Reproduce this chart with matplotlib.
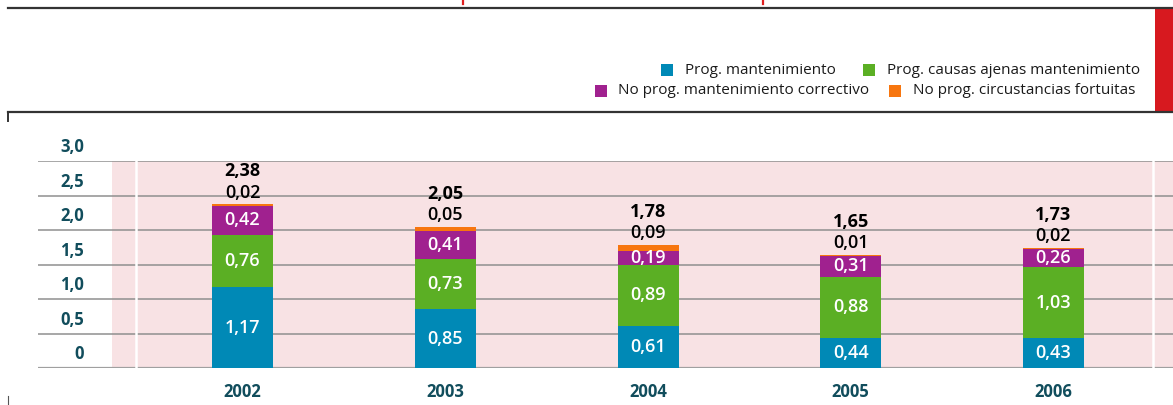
import matplotlib
matplotlib.use("Agg")
import matplotlib.pyplot as plt
from matplotlib.lines import Line2D
from matplotlib.patches import Rectangle
import matplotlib.transforms as mtransforms

plt.rcParams['font.family'] = ['Open Sans', 'DejaVu Sans']

years = ['2002', '2003', '2004', '2005', '2006']
prog_mant = [1.17, 0.85, 0.61, 0.44, 0.43]
prog_ajenas = [0.76, 0.73, 0.89, 0.88, 1.03]
noprog_correctivo = [0.42, 0.41, 0.19, 0.31, 0.26]
noprog_fortuitas = [0.02, 0.05, 0.09, 0.01, 0.02]
totales = [2.38, 2.05, 1.78, 1.65, 1.73]
yticks = [0, 0.5, 1.0, 1.5, 2.0, 2.5, 3.0]
ytick_labels = ['0', '0,5', '1,0', '1,5', '2,0', '2,5', '3,0']

series = [
    ('Prog. mantenimiento', prog_mant, '#0089b6'),
    ('Prog. causas ajenas mantenimiento', prog_ajenas, '#5baf24'),
    ('No prog. mantenimiento correctivo', noprog_correctivo, '#a0218f'),
    ('No prog. circustancias fortuitas', noprog_fortuitas, '#f7760f'),
]

TEAL = '#114d5c'
W, H = 1173, 405


def fmt(v):
    return f"{v:.2f}".replace('.', ',')


fig = plt.figure(figsize=(W / 100, H / 100), dpi=100)
ax = fig.add_axes([38 / W, (H - 368) / H, (W - 38) / W, 207 / H])

step = 202.75
def px(x):
    # pixel column -> data x
    return (x - 242.5) / step

x = list(range(len(years)))
ax.set_xlim(px(38), px(W))
ax.set_ylim(0, 3)
ax.axis('off')

# background
ax.axvspan(px(112), px(W), color='#f8e2e4', zorder=0, lw=0)
for yv in yticks:
    ax.axhline(yv, color='#a0a0a0' if yv == 0 else '#8f8f8f',
               lw=1.6 if yv == 0 else 1.1, zorder=1)
for xv in (px(136), px(1153)):
    ax.axvline(xv, color='white', lw=1.8, zorder=2)

# stacked bars
bottom = [0] * len(years)
for i, (name, vals, col) in enumerate(series):
    ax.bar(x, vals, bottom=bottom, width=61 / step, color=col, zorder=3)
    if i < 3:
        for xi, b, v in zip(x, bottom, vals):
            ax.text(xi, b + v / 2, fmt(v), color='white', fontsize=13,
                    fontweight='semibold', ha='center', va='center', zorder=4)
    bottom = [b + v for b, v in zip(bottom, vals)]

for xi, top, v, t in zip(x, bottom, noprog_fortuitas, totales):
    ax.annotate(fmt(v), (xi, top), xytext=(0, 8.5), textcoords='offset points',
                ha='center', va='center', fontsize=13, color='black',
                fontweight='semibold', zorder=4)
    ax.annotate(fmt(t), (xi, top), xytext=(0, 24), textcoords='offset points',
                ha='center', va='center', fontsize=13, color='black',
                fontweight='bold', zorder=4)

# y labels
trans = mtransforms.blended_transform_factory(fig.transFigure, ax.transData)
for yv, lab in zip(yticks, ytick_labels):
    ax.text(84 / W, yv + 0.2, lab, transform=trans, ha='right', va='center',
            fontsize=12, fontweight='bold', color=TEAL)

# x labels
for xi, yr in zip(x, years):
    ax.annotate(yr, (xi, 0), xytext=(0, -17), textcoords='offset points',
                ha='center', va='center', fontsize=12, fontweight='bold',
                color=TEAL, annotation_clip=False)

# frame decoration
def fx(p):
    return p / W

def fy(p):
    return (H - p) / H

fig.add_artist(Line2D([fx(8), 1], [fy(7.5), fy(7.5)], color='#333333', lw=1.6))
fig.add_artist(Line2D([fx(8), 1], [fy(112), fy(112)], color='#333333', lw=1.6))
fig.add_artist(Line2D([fx(8), fx(8)], [fy(112), fy(121)], color='#333333', lw=1.4))
fig.add_artist(Line2D([fx(8), fx(8)], [fy(396), fy(405)], color='#555555', lw=0.8))
fig.add_artist(Rectangle((fx(1155), fy(112)), fx(18), (112 - 8) / H,
                         color='#d7191f', lw=0))
for xr in (463, 763):
    fig.add_artist(Line2D([fx(xr), fx(xr)], [fy(0), fy(3.5)], color='#e02020', lw=1.6))

# legend
legend_pos = [
    (661, 685, 70),
    (863, 887, 70),
    (595, 618, 91),
    (889, 913, 91),
]
for (name, vals, col), (sx, tx, ty) in zip(series, legend_pos):
    fig.add_artist(Rectangle((fx(sx), fy(ty + 6)), fx(12), 12 / H, color=col, lw=0))
    fig.text(fx(tx), fy(ty), name, fontsize=11, color='#1a1a1a',
             ha='left', va='center')

fig.savefig('out.png', dpi=100)
